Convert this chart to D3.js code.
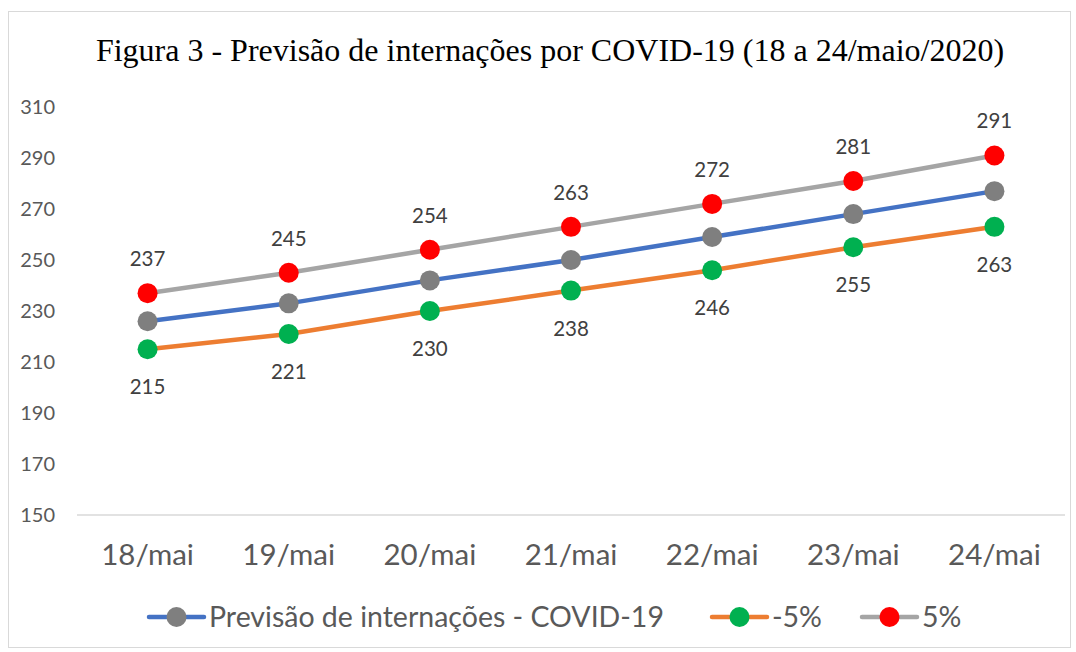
<!DOCTYPE html>
<html lang="pt">
<head>
<meta charset="UTF-8">
<title>Previsão de internações por COVID-19</title>
<style>
    body { margin: 0; background: #fff; }
    svg text { font-family: Lato, "Open Sans", sans-serif; }
</style>
</head>
<body>
<div id="chart"></div>
<script src="https://d3js.org/d3.v7.min.js"></script>
<script>
    // data
    const days = ["18/mai", "19/mai", "20/mai", "21/mai", "22/mai", "23/mai", "24/mai"];
    const previsao = [226, 233, 242, 250, 259, 268, 277];
    const menos5 = [215, 221, 230, 238, 246, 255, 263];
    const mais5 = [237, 245, 254, 263, 272, 281, 291];
    const yTicks = [150, 170, 190, 210, 230, 250, 270, 290, 310];

    const series = [
        { name: "Previsão de internações - COVID-19", values: previsao, line: "#4472c4", dot: "#7f7f7f", label: null },
        { name: "-5%", values: menos5, line: "#ed7d31", dot: "#00b050", label: "below" },
        { name: "5%", values: mais5, line: "#a5a5a5", dot: "#ff0000", label: "above" }
    ];

    const width = 1076, height = 652;
    const svg = d3.select("#chart").append("svg")
        .attr("width", width)
        .attr("height", height);

    // frame
    svg.append("rect")
        .attr("x", 8.5).attr("y", 11.5)
        .attr("width", 1062).attr("height", 636)
        .attr("fill", "#fff")
        .attr("stroke", "#d9d9d9");

    svg.append("text")
        .attr("x", 550).attr("y", 61)
        .attr("text-anchor", "middle")
        .style("font-family", "'Liberation Serif', 'Times New Roman', serif")
        .style("font-size", "32px")
        .attr("fill", "#000")
        .text("Figura 3 - Previsão de internações por COVID-19 (18 a 24/maio/2020)");

    const x = d3.scaleBand().domain(days).range([77, 1065]);
    const y = d3.scaleLinear().domain([150, 310]).range([515, 107]);
    const cx = d => x(d) + x.bandwidth() / 2;

    // y axis labels (no axis line)
    const yAxis = svg.append("g")
        .attr("transform", "translate(55,0)")
        .call(d3.axisLeft(y).tickValues(yTicks).tickSize(0).tickPadding(0));
    yAxis.select(".domain").remove();
    yAxis.selectAll("text")
        .attr("fill", "#595959")
        .style("font-size", "20px")
        .attr("x", 0);

    // baseline
    svg.append("line")
        .attr("x1", 77).attr("x2", 1065)
        .attr("y1", y(150)).attr("y2", y(150))
        .attr("stroke", "#d9d9d9").attr("stroke-width", 1.3);

    const xAxis = svg.append("g")
        .attr("transform", "translate(0," + y(150) + ")")
        .call(d3.axisBottom(x).tickSize(0).tickPadding(29));
    xAxis.select(".domain").remove();
    xAxis.selectAll("text")
        .attr("fill", "#595959")
        .style("font-size", "29.5px");

    const line = d3.line()
        .x((v, i) => cx(days[i]))
        .y(v => y(v));

    series.forEach(s => {
        svg.append("path")
            .datum(s.values)
            .attr("d", line)
            .attr("fill", "none")
            .attr("stroke", s.line)
            .attr("stroke-width", 4.5)
            .attr("stroke-linecap", "round");
    });

    series.forEach(s => {
        svg.append("g").selectAll("circle")
            .data(s.values)
            .join("circle")
            .attr("cx", (v, i) => cx(days[i]))
            .attr("cy", v => y(v))
            .attr("r", 10)
            .attr("fill", s.dot);

        if (s.label) {
            svg.append("g").selectAll("text")
                .data(s.values)
                .join("text")
                .attr("x", (v, i) => cx(days[i]))
                .attr("y", v => y(v) + (s.label === "above" ? -27 : 45))
                .attr("text-anchor", "middle")
                .attr("fill", "#404040")
                .style("font-size", "20.5px")
                .text(v => v);
        }
    });

    // legend
    const legendItems = [
        { s: series[0], x0: 149 },
        { s: series[1], x0: 712 },
        { s: series[2], x0: 862 }
    ];
    const ly = 617;
    legendItems.forEach(item => {
        const g = svg.append("g");
        g.append("line")
            .attr("x1", item.x0).attr("x2", item.x0 + 55)
            .attr("y1", ly).attr("y2", ly)
            .attr("stroke", item.s.line)
            .attr("stroke-width", 4.5)
            .attr("stroke-linecap", "round");
        g.append("circle")
            .attr("cx", item.x0 + 27.5).attr("cy", ly)
            .attr("r", 10)
            .attr("fill", item.s.dot);
        g.append("text")
            .attr("x", item.x0 + 60).attr("y", ly + 10)
            .attr("fill", "#595959")
            .style("font-size", "28.5px")
            .text(item.s.name);
    });
</script>
</body>
</html>
